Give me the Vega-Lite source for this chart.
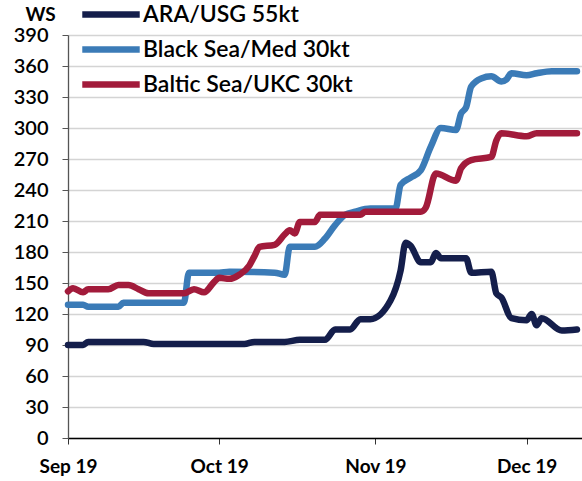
{
  "$schema": "https://vega.github.io/schema/vega-lite/v6.json",
  "width": 514,
  "height": 403,
  "autosize": {"type": "none"},
  "padding": {"left": 68, "top": 35, "right": 0, "bottom": 43},
  "background": "white",
  "config": {
    "font": "Lato",
    "view": {"stroke": null},
    "axis": {"labelFont": "Lato", "titleFont": "Lato"},
    "legend": {"labelFont": "Lato"}
  },
  "datasets": {
    "rates": [
      {"route": "ARA/USG 55kt", "date": "2019-09-01T00:00:00", "ws": 90},
      {"route": "ARA/USG 55kt", "date": "2019-09-04T00:00:00", "ws": 90},
      {"route": "ARA/USG 55kt", "date": "2019-09-05T00:00:00", "ws": 93},
      {"route": "ARA/USG 55kt", "date": "2019-09-16T00:00:00", "ws": 93},
      {"route": "ARA/USG 55kt", "date": "2019-09-18T00:00:00", "ws": 91},
      {"route": "ARA/USG 55kt", "date": "2019-10-06T00:00:00", "ws": 91},
      {"route": "ARA/USG 55kt", "date": "2019-10-08T00:00:00", "ws": 93},
      {"route": "ARA/USG 55kt", "date": "2019-10-14T00:00:00", "ws": 93},
      {"route": "ARA/USG 55kt", "date": "2019-10-17T00:00:00", "ws": 95},
      {"route": "ARA/USG 55kt", "date": "2019-10-22T00:00:00", "ws": 95},
      {"route": "ARA/USG 55kt", "date": "2019-10-24T00:00:00", "ws": 105},
      {"route": "ARA/USG 55kt", "date": "2019-10-27T00:00:00", "ws": 105},
      {"route": "ARA/USG 55kt", "date": "2019-10-29T00:00:00", "ws": 115},
      {"route": "ARA/USG 55kt", "date": "2019-10-31T00:00:00", "ws": 115},
      {"route": "ARA/USG 55kt", "date": "2019-11-04T00:00:00", "ws": 133},
      {"route": "ARA/USG 55kt", "date": "2019-11-06T00:00:00", "ws": 162},
      {"route": "ARA/USG 55kt", "date": "2019-11-07T00:00:00", "ws": 189},
      {"route": "ARA/USG 55kt", "date": "2019-11-08T00:00:00", "ws": 186},
      {"route": "ARA/USG 55kt", "date": "2019-11-10T00:00:00", "ws": 170},
      {"route": "ARA/USG 55kt", "date": "2019-11-12T00:00:00", "ws": 170},
      {"route": "ARA/USG 55kt", "date": "2019-11-13T00:00:00", "ws": 179},
      {"route": "ARA/USG 55kt", "date": "2019-11-14T00:00:00", "ws": 174},
      {"route": "ARA/USG 55kt", "date": "2019-11-19T00:00:00", "ws": 174},
      {"route": "ARA/USG 55kt", "date": "2019-11-20T00:00:00", "ws": 160},
      {"route": "ARA/USG 55kt", "date": "2019-11-24T00:00:00", "ws": 161},
      {"route": "ARA/USG 55kt", "date": "2019-11-25T00:00:00", "ws": 140},
      {"route": "ARA/USG 55kt", "date": "2019-11-26T00:00:00", "ws": 136},
      {"route": "ARA/USG 55kt", "date": "2019-11-28T00:00:00", "ws": 116},
      {"route": "ARA/USG 55kt", "date": "2019-12-01T00:00:00", "ws": 114},
      {"route": "ARA/USG 55kt", "date": "2019-12-02T00:00:00", "ws": 120},
      {"route": "ARA/USG 55kt", "date": "2019-12-03T00:00:00", "ws": 109},
      {"route": "ARA/USG 55kt", "date": "2019-12-04T00:00:00", "ws": 116},
      {"route": "ARA/USG 55kt", "date": "2019-12-08T00:00:00", "ws": 104},
      {"route": "ARA/USG 55kt", "date": "2019-12-11T00:00:00", "ws": 105},

      {"route": "Black Sea/Med 30kt", "date": "2019-09-01T00:00:00", "ws": 129},
      {"route": "Black Sea/Med 30kt", "date": "2019-09-04T00:00:00", "ws": 129},
      {"route": "Black Sea/Med 30kt", "date": "2019-09-05T00:00:00", "ws": 127},
      {"route": "Black Sea/Med 30kt", "date": "2019-09-11T00:00:00", "ws": 127},
      {"route": "Black Sea/Med 30kt", "date": "2019-09-12T00:00:00", "ws": 131},
      {"route": "Black Sea/Med 30kt", "date": "2019-09-24T00:00:00", "ws": 131},
      {"route": "Black Sea/Med 30kt", "date": "2019-09-25T00:00:00", "ws": 160},
      {"route": "Black Sea/Med 30kt", "date": "2019-10-01T00:00:00", "ws": 160},
      {"route": "Black Sea/Med 30kt", "date": "2019-10-03T00:00:00", "ws": 161},
      {"route": "Black Sea/Med 30kt", "date": "2019-10-12T00:00:00", "ws": 160},
      {"route": "Black Sea/Med 30kt", "date": "2019-10-14T00:00:00", "ws": 158},
      {"route": "Black Sea/Med 30kt", "date": "2019-10-15T00:00:00", "ws": 185},
      {"route": "Black Sea/Med 30kt", "date": "2019-10-20T00:00:00", "ws": 185},
      {"route": "Black Sea/Med 30kt", "date": "2019-10-22T00:00:00", "ws": 193},
      {"route": "Black Sea/Med 30kt", "date": "2019-10-24T00:00:00", "ws": 206},
      {"route": "Black Sea/Med 30kt", "date": "2019-10-26T00:00:00", "ws": 216},
      {"route": "Black Sea/Med 30kt", "date": "2019-10-28T00:00:00", "ws": 219},
      {"route": "Black Sea/Med 30kt", "date": "2019-10-31T00:00:00", "ws": 222},
      {"route": "Black Sea/Med 30kt", "date": "2019-11-05T00:00:00", "ws": 222},
      {"route": "Black Sea/Med 30kt", "date": "2019-11-06T00:00:00", "ws": 245},
      {"route": "Black Sea/Med 30kt", "date": "2019-11-08T00:00:00", "ws": 252},
      {"route": "Black Sea/Med 30kt", "date": "2019-11-10T00:00:00", "ws": 259},
      {"route": "Black Sea/Med 30kt", "date": "2019-11-12T00:00:00", "ws": 282},
      {"route": "Black Sea/Med 30kt", "date": "2019-11-14T00:00:00", "ws": 300},
      {"route": "Black Sea/Med 30kt", "date": "2019-11-17T00:00:00", "ws": 298},
      {"route": "Black Sea/Med 30kt", "date": "2019-11-18T00:00:00", "ws": 314},
      {"route": "Black Sea/Med 30kt", "date": "2019-11-19T00:00:00", "ws": 320},
      {"route": "Black Sea/Med 30kt", "date": "2019-11-20T00:00:00", "ws": 340},
      {"route": "Black Sea/Med 30kt", "date": "2019-11-22T00:00:00", "ws": 348},
      {"route": "Black Sea/Med 30kt", "date": "2019-11-24T00:00:00", "ws": 350},
      {"route": "Black Sea/Med 30kt", "date": "2019-11-26T00:00:00", "ws": 345},
      {"route": "Black Sea/Med 30kt", "date": "2019-11-27T00:00:00", "ws": 347},
      {"route": "Black Sea/Med 30kt", "date": "2019-11-28T00:00:00", "ws": 353},
      {"route": "Black Sea/Med 30kt", "date": "2019-12-01T00:00:00", "ws": 351},
      {"route": "Black Sea/Med 30kt", "date": "2019-12-03T00:00:00", "ws": 353},
      {"route": "Black Sea/Med 30kt", "date": "2019-12-06T00:00:00", "ws": 355},
      {"route": "Black Sea/Med 30kt", "date": "2019-12-11T00:00:00", "ws": 355},

      {"route": "Baltic Sea/UKC 30kt", "date": "2019-09-01T00:00:00", "ws": 142},
      {"route": "Baltic Sea/UKC 30kt", "date": "2019-09-02T00:00:00", "ws": 145},
      {"route": "Baltic Sea/UKC 30kt", "date": "2019-09-04T00:00:00", "ws": 141},
      {"route": "Baltic Sea/UKC 30kt", "date": "2019-09-05T00:00:00", "ws": 144},
      {"route": "Baltic Sea/UKC 30kt", "date": "2019-09-09T00:00:00", "ws": 144},
      {"route": "Baltic Sea/UKC 30kt", "date": "2019-09-11T00:00:00", "ws": 148},
      {"route": "Baltic Sea/UKC 30kt", "date": "2019-09-13T00:00:00", "ws": 148},
      {"route": "Baltic Sea/UKC 30kt", "date": "2019-09-15T00:00:00", "ws": 144},
      {"route": "Baltic Sea/UKC 30kt", "date": "2019-09-17T00:00:00", "ws": 140},
      {"route": "Baltic Sea/UKC 30kt", "date": "2019-09-24T00:00:00", "ws": 140},
      {"route": "Baltic Sea/UKC 30kt", "date": "2019-09-26T00:00:00", "ws": 144},
      {"route": "Baltic Sea/UKC 30kt", "date": "2019-09-28T00:00:00", "ws": 141},
      {"route": "Baltic Sea/UKC 30kt", "date": "2019-09-30T00:00:00", "ws": 151},
      {"route": "Baltic Sea/UKC 30kt", "date": "2019-10-01T00:00:00", "ws": 155},
      {"route": "Baltic Sea/UKC 30kt", "date": "2019-10-03T00:00:00", "ws": 154},
      {"route": "Baltic Sea/UKC 30kt", "date": "2019-10-05T00:00:00", "ws": 158},
      {"route": "Baltic Sea/UKC 30kt", "date": "2019-10-07T00:00:00", "ws": 167},
      {"route": "Baltic Sea/UKC 30kt", "date": "2019-10-08T00:00:00", "ws": 176},
      {"route": "Baltic Sea/UKC 30kt", "date": "2019-10-09T00:00:00", "ws": 185},
      {"route": "Baltic Sea/UKC 30kt", "date": "2019-10-12T00:00:00", "ws": 187},
      {"route": "Baltic Sea/UKC 30kt", "date": "2019-10-14T00:00:00", "ws": 197},
      {"route": "Baltic Sea/UKC 30kt", "date": "2019-10-15T00:00:00", "ws": 201},
      {"route": "Baltic Sea/UKC 30kt", "date": "2019-10-16T00:00:00", "ws": 198},
      {"route": "Baltic Sea/UKC 30kt", "date": "2019-10-17T00:00:00", "ws": 209},
      {"route": "Baltic Sea/UKC 30kt", "date": "2019-10-20T00:00:00", "ws": 209},
      {"route": "Baltic Sea/UKC 30kt", "date": "2019-10-21T00:00:00", "ws": 216},
      {"route": "Baltic Sea/UKC 30kt", "date": "2019-10-29T00:00:00", "ws": 216},
      {"route": "Baltic Sea/UKC 30kt", "date": "2019-10-30T00:00:00", "ws": 219},
      {"route": "Baltic Sea/UKC 30kt", "date": "2019-11-10T00:00:00", "ws": 219},
      {"route": "Baltic Sea/UKC 30kt", "date": "2019-11-11T00:00:00", "ws": 223},
      {"route": "Baltic Sea/UKC 30kt", "date": "2019-11-13T00:00:00", "ws": 256},
      {"route": "Baltic Sea/UKC 30kt", "date": "2019-11-17T00:00:00", "ws": 249},
      {"route": "Baltic Sea/UKC 30kt", "date": "2019-11-18T00:00:00", "ws": 261},
      {"route": "Baltic Sea/UKC 30kt", "date": "2019-11-20T00:00:00", "ws": 269},
      {"route": "Baltic Sea/UKC 30kt", "date": "2019-11-24T00:00:00", "ws": 272},
      {"route": "Baltic Sea/UKC 30kt", "date": "2019-11-25T00:00:00", "ws": 288},
      {"route": "Baltic Sea/UKC 30kt", "date": "2019-11-26T00:00:00", "ws": 295},
      {"route": "Baltic Sea/UKC 30kt", "date": "2019-12-01T00:00:00", "ws": 292},
      {"route": "Baltic Sea/UKC 30kt", "date": "2019-12-03T00:00:00", "ws": 295},
      {"route": "Baltic Sea/UKC 30kt", "date": "2019-12-11T00:00:00", "ws": 295}
    ]
  },
  "data": {"name": "rates"},
  "mark": {"type": "line", "strokeWidth": 6.5, "strokeCap": "round", "strokeJoin": "round", "interpolate": "monotone"},
  "encoding": {
    "x": {
      "field": "date",
      "type": "temporal",
      "scale": {"domain": ["2019-09-01T00:00:00", "2019-12-12T00:00:00"]},
      "axis": {
        "title": null,
        "values": ["2019-09-01T00:00:00", "2019-10-01T00:00:00", "2019-11-01T00:00:00", "2019-12-01T00:00:00"],
        "format": "%b %y",
        "grid": false,
        "domainColor": "#000000",
        "domainWidth": 1.5,
        "tickColor": "#333333",
        "tickSize": 6,
        "tickWidth": 1,
        "labelFontSize": 19,
        "labelFontWeight": "bold",
        "labelColor": "#000000",
        "labelPadding": 13,
        "labelFlush": false,
        "labelOverlap": false
      }
    },
    "y": {
      "field": "ws",
      "type": "quantitative",
      "scale": {"domain": [0, 390], "nice": false},
      "axis": {
        "title": "WS",
        "titleAngle": 0,
        "titleX": -28,
        "titleY": -21,
        "titleAlign": "center",
        "titleBaseline": "middle",
        "titleFontSize": 19,
        "titleFontWeight": "bold",
        "titleColor": "#000000",
        "values": [0, 30, 60, 90, 120, 150, 180, 210, 240, 270, 300, 330, 360, 390],
        "grid": true,
        "gridColor": "#d4d4d4",
        "gridWidth": 1.3,
        "domainColor": "#555555",
        "domainWidth": 1.3,
        "tickColor": "#555555",
        "tickSize": 6,
        "labelFontSize": 20,
        "labelFontWeight": 600,
        "labelColor": "#000000",
        "labelPadding": 14
      }
    },
    "color": {
      "field": "route",
      "type": "nominal",
      "scale": {
        "domain": ["ARA/USG 55kt", "Black Sea/Med 30kt", "Baltic Sea/UKC 30kt"],
        "range": ["#141e4b", "#3b7bb7", "#a21b3b"]
      },
      "legend": {
        "title": null,
        "orient": "none",
        "legendX": 11,
        "legendY": -37,
        "symbolType": "stroke",
        "symbolStrokeWidth": 6.5,
        "symbolSize": 3300,
        "labelFontSize": 23,
        "labelFontWeight": 600,
        "labelColor": "#000000",
        "labelOffset": 0,
        "labelLimit": 400,
        "clipHeight": 33,
        "rowPadding": 2,
        "padding": 0
      }
    }
  }
}
